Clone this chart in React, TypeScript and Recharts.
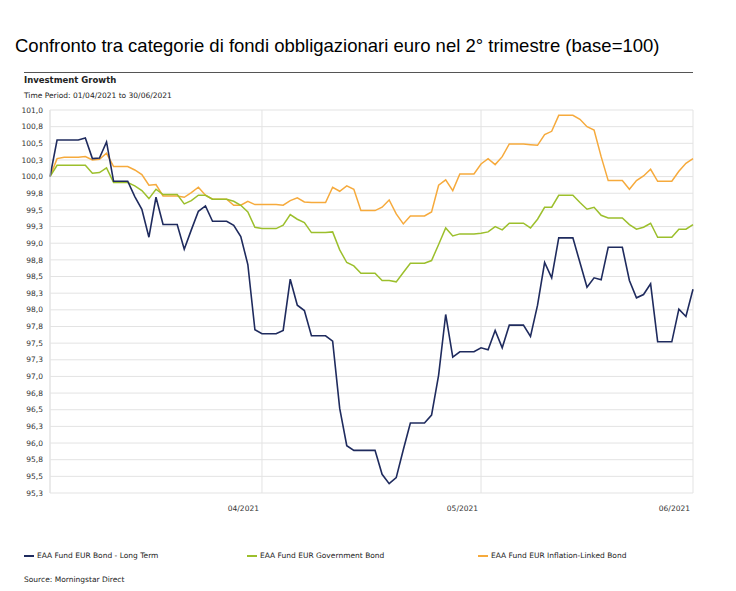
import React from 'react'
import {
  LineChart,
  Line,
  XAxis,
  YAxis,
  CartesianGrid,
} from 'recharts'

// ─── Data ─────────────────────────────────────────────────────────────────────

// one point per calendar day, 31/03/2021 (base) .. 30/06/2021
const longTerm = [
  100.0, 100.55, 100.55, 100.55, 100.55, 100.58, 100.27, 100.28, 100.52, 99.93,
  99.93, 99.93, 99.7, 99.51, 99.09, 99.69, 99.28, 99.28, 99.28, 98.91,
  99.2, 99.48, 99.56, 99.33, 99.33, 99.33, 99.27, 99.1, 98.68, 97.7,
  97.64, 97.64, 97.64, 97.69, 98.46, 98.07, 97.99, 97.61, 97.61, 97.61,
  97.53, 96.52, 95.96, 95.89, 95.89, 95.89, 95.89, 95.53, 95.39, 95.48,
  95.9, 96.3, 96.3, 96.3, 96.42, 97.02, 97.93, 97.29, 97.37, 97.37,
  97.37, 97.43, 97.4, 97.69, 97.43, 97.77, 97.77, 97.77, 97.6, 98.07,
  98.71, 98.48, 99.08, 99.08, 99.08, 98.71, 98.34, 98.48, 98.45, 98.94,
  98.94, 98.94, 98.44, 98.18, 98.23, 98.39, 97.52, 97.52, 97.52, 98.01,
  97.9, 98.31,
]

const government = [
  100.0, 100.17, 100.17, 100.17, 100.17, 100.17, 100.05, 100.06, 100.13, 99.91,
  99.91, 99.91, 99.86, 99.79, 99.67, 99.81, 99.73, 99.73, 99.73, 99.59,
  99.64, 99.72, 99.72, 99.66, 99.66, 99.66, 99.63, 99.57, 99.47, 99.24,
  99.22, 99.22, 99.22, 99.27, 99.43, 99.36, 99.31, 99.16, 99.16, 99.16,
  99.17, 98.9, 98.71, 98.66, 98.55, 98.55, 98.55, 98.44, 98.44, 98.42,
  98.56, 98.7, 98.7, 98.7, 98.74, 98.98, 99.23, 99.11, 99.14, 99.14,
  99.14, 99.15, 99.17, 99.25, 99.2, 99.3, 99.3, 99.3, 99.23, 99.36,
  99.54, 99.54, 99.72, 99.72, 99.72, 99.61, 99.51, 99.54, 99.42, 99.38,
  99.38, 99.38, 99.28, 99.21, 99.24, 99.3, 99.09, 99.09, 99.09, 99.21,
  99.21, 99.28,
]

const inflationLinked = [
  100.0, 100.27, 100.29, 100.29, 100.29, 100.3, 100.25, 100.26, 100.35, 100.15,
  100.15, 100.15, 100.1, 100.03, 99.87, 99.88, 99.71, 99.71, 99.71, 99.69,
  99.76, 99.84, 99.72, 99.66, 99.66, 99.66, 99.57, 99.57, 99.63, 99.58,
  99.58, 99.58, 99.58, 99.57, 99.64, 99.68, 99.62, 99.61, 99.61, 99.61,
  99.84, 99.78, 99.86, 99.81, 99.49, 99.49, 99.49, 99.54, 99.65, 99.44,
  99.29, 99.41, 99.41, 99.41, 99.47, 99.87, 99.95, 99.79, 100.04, 100.04,
  100.04, 100.19, 100.27, 100.18, 100.3, 100.49, 100.49, 100.49, 100.48, 100.47,
  100.63, 100.68, 100.92, 100.92, 100.92, 100.86, 100.75, 100.7, 100.3, 99.94,
  99.94, 99.94, 99.81, 99.94, 100.01, 100.11, 99.93, 99.93, 99.93, 100.08,
  100.2, 100.27,
]

const monthTicks = [30, 61, 91]
const monthLabels = ['04/2021', '05/2021', '06/2021']

const yTicks = [
  95.25, 95.5, 95.75, 96.0, 96.25, 96.5, 96.75, 97.0, 97.25, 97.5, 97.75, 98.0,
  98.25, 98.5, 98.75, 99.0, 99.25, 99.5, 99.75, 100.0, 100.25, 100.5, 100.75, 101.0,
]

const seriesNames = [
  'EAA Fund EUR Bond - Long Term',
  'EAA Fund EUR Government Bond',
  'EAA Fund EUR Inflation-Linked Bond',
]

// ─── Style ────────────────────────────────────────────────────────────────────

const NAVY = '#1f2b5e'
const GREEN = '#9cbf2c'
const ORANGE = '#f6aa3c'
const FONT = '"DejaVu Sans", Verdana, sans-serif'

const data = longTerm.map((v, i) => ({
  day: i,
  longTerm: v,
  government: government[i],
  inflationLinked: inflationLinked[i],
}))

function MonthTick({ x, y, payload }: { x?: number; y?: number; payload?: { value: number } }) {
  const idx = monthTicks.indexOf(payload?.value ?? -1)
  return (
    <text x={(x ?? 0) - 3} y={(y ?? 0) + 10} textAnchor="end" fontSize={7.5} fill="#333" fontFamily={FONT}>
      {monthLabels[idx]}
    </text>
  )
}

const legendX = [24, 247, 478]
const legendColors = [NAVY, GREEN, ORANGE]

// ─── App ──────────────────────────────────────────────────────────────────────

export default function App() {
  return (
    <div style={{ position: 'absolute', left: 0, top: 0, width: 736, height: 591, background: '#fff' }}>
      <div
        style={{
          position: 'absolute', left: 15, top: 35, fontFamily: '"Liberation Sans", Arial, sans-serif',
          fontSize: 18.5, color: '#000', whiteSpace: 'nowrap',
        }}
      >
        Confronto tra categorie di fondi obbligazionari euro nel 2° trimestre (base=100)
      </div>
      <div style={{ position: 'absolute', left: 24, top: 72, width: 669, height: 1, background: '#555' }} />
      <div style={{ position: 'absolute', left: 24, top: 75, fontFamily: FONT, fontSize: 8.5, fontWeight: 'bold', color: '#222' }}>
        Investment Growth
      </div>
      <div style={{ position: 'absolute', left: 24, top: 91, fontFamily: FONT, fontSize: 7.5, color: '#222' }}>
        Time Period: 01/04/2021 to 30/06/2021
      </div>

      <div style={{ position: 'absolute', left: 0, top: 0 }}>
        <LineChart width={736} height={520} data={data} margin={{ top: 110, right: 43, bottom: 0, left: 0 }}>
          <CartesianGrid stroke="#e3e3e3" strokeWidth={1} />
          <XAxis
            dataKey="day"
            type="number"
            domain={[0, 91]}
            ticks={monthTicks}
            tick={<MonthTick />}
            tickLine={false}
            axisLine={false}
            height={27}
            interval={0}
          />
          <YAxis
            type="number"
            domain={[95.25, 101]}
            ticks={yTicks}
            interval={0}
            width={50}
            tickLine={false}
            axisLine={{ stroke: '#e3e3e3' }}
            tickFormatter={(v: number) => v.toFixed(1).replace('.', ',')}
            tick={{ fontSize: 7.5, fill: '#333', fontFamily: FONT, dx: 1 }}
          />
          <Line dataKey="inflationLinked" stroke={ORANGE} strokeWidth={1.5} dot={false} isAnimationActive={false} />
          <Line dataKey="government" stroke={GREEN} strokeWidth={1.5} dot={false} isAnimationActive={false} />
          <Line dataKey="longTerm" stroke={NAVY} strokeWidth={1.6} dot={false} isAnimationActive={false} />
        </LineChart>
      </div>

      {seriesNames.map((name, i) => (
        <div
          key={name}
          style={{
            position: 'absolute', left: legendX[i], top: 551, fontFamily: FONT, fontSize: 7.5,
            color: '#222', display: 'flex', alignItems: 'center', whiteSpace: 'nowrap',
          }}
        >
          <span style={{ display: 'inline-block', width: 10, height: 2, background: legendColors[i], marginRight: 3 }} />
          {name}
        </div>
      ))}
      <div style={{ position: 'absolute', left: 24, top: 575, fontFamily: FONT, fontSize: 7.5, color: '#222' }}>
        Source: Morningstar Direct
      </div>
    </div>
  )
}
